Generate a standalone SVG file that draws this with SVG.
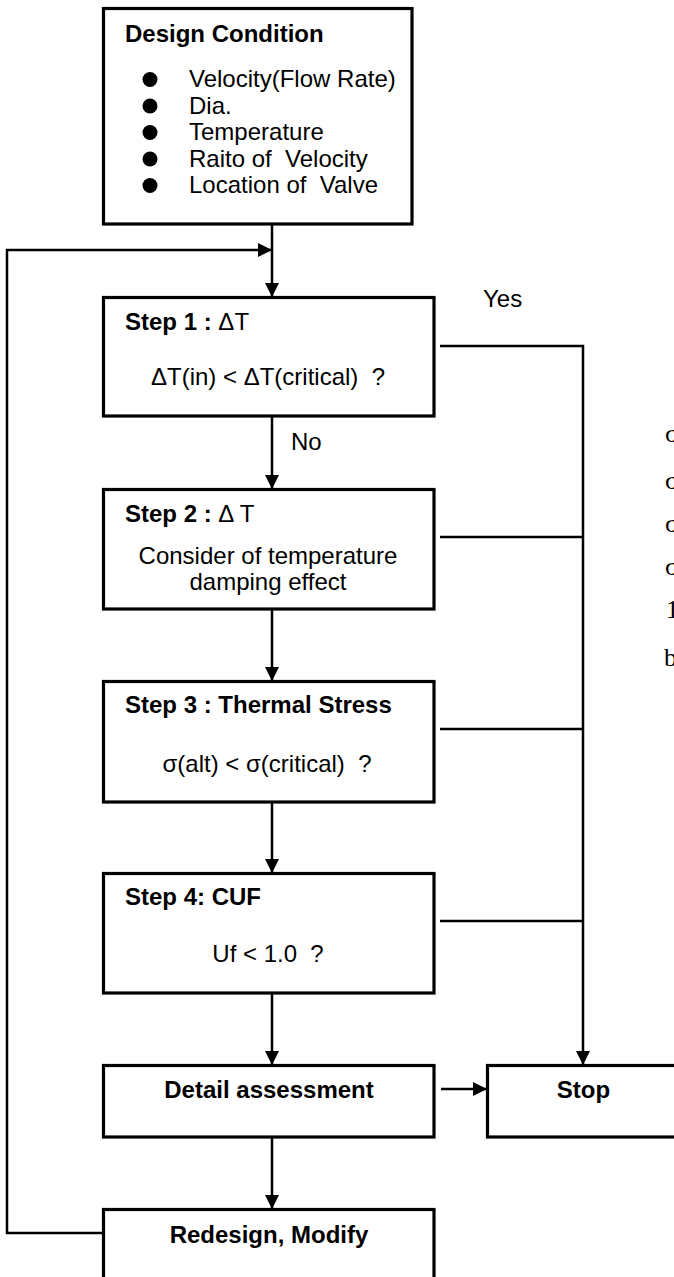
<svg xmlns="http://www.w3.org/2000/svg" width="674" height="1277" viewBox="0 0 674 1277">
<style>
.box{fill:#fff;stroke:#000;stroke-width:3.2}
.ln{fill:none;stroke:#000;stroke-width:2.5}
.t{font-family:"Liberation Sans",Arial,sans-serif;font-size:24px;fill:#000;white-space:pre}
.b{font-weight:bold}
.m{text-anchor:middle}
.s{font-family:"Liberation Serif","Times New Roman",serif;font-size:26px;fill:#000}
</style>
<defs>
<marker id="ah" viewBox="0 0 10 10" refX="10" refY="5" markerWidth="14" markerHeight="14" markerUnits="userSpaceOnUse" orient="auto">
<path d="M0,0 L10,5 L0,10 z" fill="#000"/>
</marker>
</defs>
<g id="connectors">
<line class="ln" x1="272" y1="224" x2="272" y2="297" marker-end="url(#ah)"/>
<polyline class="ln" points="103,1233 7,1233 7,250 272,250" marker-end="url(#ah)"/>
<line class="ln" x1="272" y1="416" x2="272" y2="489" marker-end="url(#ah)"/>
<line class="ln" x1="272" y1="609" x2="272" y2="681" marker-end="url(#ah)"/>
<line class="ln" x1="272" y1="802" x2="272" y2="873" marker-end="url(#ah)"/>
<line class="ln" x1="272" y1="993" x2="272" y2="1065" marker-end="url(#ah)"/>
<line class="ln" x1="272" y1="1137" x2="272" y2="1209" marker-end="url(#ah)"/>
<line class="ln" x1="441" y1="1089" x2="487" y2="1089" marker-end="url(#ah)"/>
<polyline class="ln" points="440,346 583,346 583,1065" marker-end="url(#ah)"/>
<line class="ln" x1="440" y1="537" x2="583" y2="537"/>
<line class="ln" x1="440" y1="729" x2="583" y2="729"/>
<line class="ln" x1="440" y1="921" x2="583" y2="921"/>
<text class="t" x="483" y="307">Yes</text>
<text class="t" x="291" y="450">No</text>
</g>
<g id="design-condition">
<rect class="box" x="103.5" y="8.5" width="308.5" height="215.5"/>
<text class="t b" x="125" y="42">Design Condition</text>
<circle cx="150" cy="79.5" r="7.5"/>
<circle cx="150" cy="106" r="7.5"/>
<circle cx="150" cy="132.5" r="7.5"/>
<circle cx="150" cy="159" r="7.5"/>
<circle cx="150" cy="185.5" r="7.5"/>
<text class="t" x="189" y="87">Velocity(Flow Rate)</text>
<text class="t" x="189" y="113.5">Dia.</text>
<text class="t" x="189" y="140">Temperature</text>
<text class="t" x="189" y="166.5">Raito of  Velocity</text>
<text class="t" x="189" y="193">Location of  Valve</text>
</g>
<g id="step1">
<rect class="box" x="103.5" y="297.5" width="330.5" height="118.5"/>
<text class="t" x="125" y="330"><tspan class="b">Step 1 : </tspan>ΔT</text>
<text class="t m" x="268" y="385">ΔT(in) &lt; ΔT(critical)  ?</text>
</g>
<g id="step2">
<rect class="box" x="103.5" y="489.5" width="330.5" height="119.5"/>
<text class="t" x="125" y="522"><tspan class="b">Step 2 : </tspan>Δ T</text>
<text class="t m" x="268" y="564">Consider of temperature</text>
<text class="t m" x="268" y="590">damping effect</text>
</g>
<g id="step3">
<rect class="box" x="103.5" y="681.5" width="330.5" height="120.5"/>
<text class="t b" x="125" y="713">Step 3 : Thermal Stress</text>
<text class="t m" x="267" y="772">σ(alt) &lt; σ(critical)  ?</text>
</g>
<g id="step4">
<rect class="box" x="103.5" y="873.5" width="330.5" height="119.5"/>
<text class="t b" x="125" y="905">Step 4: CUF</text>
<text class="t m" x="268" y="962">Uf &lt; 1.0  ?</text>
</g>
<g id="detail">
<rect class="box" x="103.5" y="1065.5" width="330.5" height="71.5"/>
<text class="t b m" x="269" y="1098">Detail assessment</text>
</g>
<g id="stop">
<rect class="box" x="487.5" y="1065.5" width="200" height="71.5"/>
<text class="t b m" x="583.5" y="1098">Stop</text>
</g>
<g id="redesign">
<rect class="box" x="103.5" y="1209.5" width="330.5" height="90"/>
<text class="t b m" x="269" y="1243">Redesign, Modify</text>
</g>
<g id="stray-text">
<text class="s" x="665" y="442">σ</text>
<text class="s" x="665" y="489">σ</text>
<text class="s" x="665" y="532">σ</text>
<text class="s" x="665" y="575">σ</text>
<text class="s" x="666" y="618">1</text>
<text class="s" x="664" y="666">b</text>
</g>
</svg>
